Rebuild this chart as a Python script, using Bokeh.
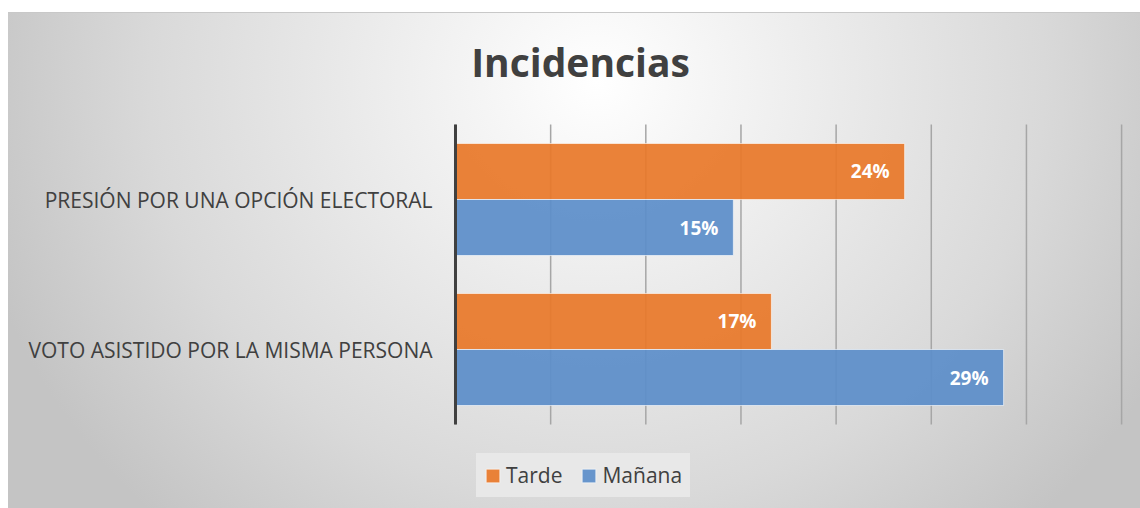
from bokeh.plotting import figure
from bokeh.models import (Range1d, ColumnDataSource, FixedTicker,
                          Legend, LegendItem, Label)
from bokeh.core.properties import value
from bokeh.embed import file_html
from bokeh.resources import INLINE

# ---- data ----
title_text = "Incidencias"
categories = ["PRESIÓN POR UNA OPCIÓN ELECTORAL", "VOTO ASISTIDO POR LA MISMA PERSONA"]
series_names = ["Tarde", "Mañana"]
tarde = [23.6, 16.6]     # percent
manana = [14.6, 28.8]    # percent
x_ticks = [0, 5, 10, 15, 20, 25, 30, 35]

n = len(categories)
cat_y = [n - i - 0.5 for i in range(n)]          # category centres (top first)
off = 0.1867                                      # bar offset inside category
h = 0.3733                                        # bar thickness

tarde_lbl = [f"{v:.0f}%" for v in tarde]
manana_lbl = [f"{v:.0f}%" for v in manana]

src = ColumnDataSource(dict(
    y_t=[c + off for c in cat_y], y_m=[c - off for c in cat_y],
    tarde=tarde, manana=manana, tarde_lbl=tarde_lbl, manana_lbl=manana_lbl))

FONT = "Open Sans"
TXT = "#404040"
ORANGE = "#E8782A"
BLUE = "#5C8EC9"

# frame covers the full figure height: 150 px per category unit
p = figure(width=1132, height=496, title=None,
           y_range=Range1d(-0.56, n + 0.7467),
           x_range=Range1d(-0.21, 35.1),
           output_backend="svg", toolbar_location=None,
           min_border_left=443, min_border_right=17,
           min_border_top=0, min_border_bottom=0)

p.styles = {
    "background": "radial-gradient(ellipse 640px 600px at 52% 14%, #ffffff 0%, #f5f5f5 18%, #d9d9d9 70%, #c4c4c4 100%)",
    "position": "relative",
    "top": "12px",
    "left": "8px",
    "box-shadow": "inset 0 1px 0 #c8c8c8",
}
p.background_fill_color = None
p.border_fill_color = None
p.outline_line_color = None

# title (as a label inside the frame)
p.add_layout(Label(x=6.57, y=n + 0.42, text=title_text, text_align="center",
                   text_baseline="alphabetic", text_font=FONT, text_font_style="bold",
                   text_font_size="39px", text_color=TXT))

# gridlines (only across the category band) and value axis line
p.segment(x0=x_ticks, y0=[0] * len(x_ticks), x1=x_ticks, y1=[n] * len(x_ticks),
          line_color="#a6a6a6", line_width=1.5, level="underlay")

# bars
r_t = p.hbar(y="y_t", right="tarde", left=0, height=h, source=src,
             fill_color=ORANGE, fill_alpha=0.93,
             line_color="white", line_alpha=0.6, line_width=1)
r_m = p.hbar(y="y_m", right="manana", left=0, height=h, source=src,
             fill_color=BLUE, fill_alpha=0.93,
             line_color="white", line_alpha=0.6, line_width=1)

p.segment(x0=[0], y0=[0], x1=[0], y1=[n], line_color=TXT, line_width=3)

# data labels
for col, lbl, yc in (("tarde", "tarde_lbl", "y_t"), ("manana", "manana_lbl", "y_m")):
    p.text(x=col, y=yc, text=lbl, source=src,
           text_align="right", text_baseline="middle", x_offset=-15,
           text_color="white", text_font=value(FONT), text_font_style="bold",
           text_font_size="19px")

# axes / grid
p.xaxis.visible = False
p.xgrid.visible = False
p.ygrid.visible = False

p.yaxis.ticker = FixedTicker(ticks=cat_y)
p.yaxis.major_label_overrides = {y: c for y, c in zip(cat_y, categories)}
p.yaxis.axis_line_color = None
p.yaxis.major_tick_line_color = None
p.yaxis.minor_tick_line_color = None
p.yaxis.major_label_standoff = 13
p.yaxis.major_label_text_font = FONT
p.yaxis.major_label_text_font_size = "21px"
p.yaxis.major_label_text_color = TXT

# legend
legend = Legend(items=[LegendItem(label=series_names[0], renderers=[r_t]),
                       LegendItem(label=series_names[1], renderers=[r_m])],
                orientation="horizontal", location=(25, 11))
legend.glyph_width = 17
legend.glyph_height = 17
legend.label_standoff = 5
legend.spacing = 18
legend.padding = 0
legend.margin = 0
legend.background_fill_color = "#e8e8e8"
legend.background_fill_alpha = 1.0
legend.border_line_color = "#e8e8e8"
legend.border_line_width = 8
legend.border_line_join = "miter"
legend.label_text_font = FONT
legend.label_text_font_size = "21px"
legend.label_text_color = TXT
p.add_layout(legend, "center")

open("out.html", "w").write(file_html(p, INLINE))
